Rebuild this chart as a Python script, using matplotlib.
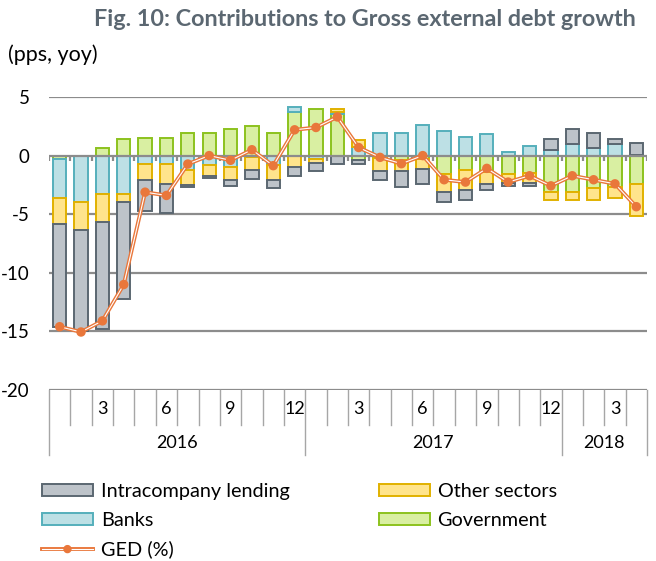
import matplotlib
matplotlib.use("Agg")
import matplotlib.pyplot as plt
import matplotlib.patheffects as pe
from matplotlib.patches import Patch
from matplotlib.lines import Line2D
import numpy as np

plt.rcParams["font.family"] = ["Lato", "DejaVu Sans"]

# ── data (pps, yoy), Jan 2016 .. Apr 2018 ────────────────────────────────
years = ["2016", "2017", "2018"]
month_nums = list(range(1, 13)) + list(range(1, 13)) + [1, 2, 3, 4]

government = [-0.25, 0.0, 0.66, 1.38, 1.52, 1.52, 1.90, 1.89, 2.23, 2.55, 1.89, 3.72,
              3.95, 3.58, -0.37, -0.20, -0.40, -0.29, -1.55, -1.26, -1.37, -1.55, -1.49, -3.07,
              -3.07, -2.78, -2.64, -2.41]
banks = [-3.35, -3.93, -3.27, -3.27, -0.69, -0.69, -1.20, -0.83, -1.00, -0.10, -0.77, 0.43,
         -0.29, 0.14, 0.77, 1.89, 1.89, 2.58, 2.06, 1.58, 1.86, 0.32, 0.86, 0.52,
         0.95, 0.66, 1.00, 0.09]
other_sectors = [-2.20, -2.43, -2.37, -0.66, -1.43, -1.72, -1.29, -0.89, -1.06, -1.10, -1.29, -1.00,
                 -0.34, 0.23, 0.57, -1.10, -0.95, -0.86, -1.52, -1.66, -1.09, -0.80, -0.86, -0.72,
                 -0.72, -1.00, -1.00, -2.75]
intracompany = [-8.80, -8.60, -9.17, -8.30, -2.58, -2.46, -0.15, -0.20, -0.52, -0.78, -0.72, -0.72,
                -0.72, -0.69, -0.37, -0.80, -1.29, -1.29, -0.86, -0.86, -0.49, -0.23, -0.23, 0.86,
                1.28, 1.23, 0.38, 0.95]
ged = [-14.60, -15.05, -14.10, -11.00, -3.12, -3.40, -0.72, 0.00, -0.40, 0.50, -0.86, 2.20,
       2.40, 3.30, 0.69, -0.15, -0.69, 0.00, -2.06, -2.26, -1.09, -2.26, -1.72, -2.58,
       -1.72, -2.06, -2.41, -4.36]

# stacking order from zero outwards
series = [
    ("Government", government, "#D9EFA2", "#8CC21E"),
    ("Banks", banks, "#BDE0E5", "#55AFBB"),
    ("Other sectors", other_sectors, "#FFE48C", "#E1B100"),
    ("Intracompany lending", intracompany, "#BDC3C9", "#5B6771"),
]
GED_COLOR = "#E9773B"
GRID = "#8C8C8C"
CAT_LINE = "#A6A6A6"
TITLE_COLOR = "#5B6771"

n = len(ged)
x = np.arange(n)

fig = plt.figure(figsize=(6.56, 5.61), dpi=100)
ax = fig.add_axes([49 / 656, 1 - 390 / 561, 598 / 656, 293 / 561])

# ── stacked bars, positive and negative parts stacked separately ────────
pos_base = np.zeros(n)
neg_base = np.zeros(n)
handles = {}
for name, vals, face, edge in series:
    v = np.asarray(vals)
    bottom = np.where(v >= 0, pos_base, neg_base)
    ax.bar(x, v, 0.62, bottom=bottom, color=face, edgecolor=edge,
           linewidth=1.4, zorder=2)
    pos_base += np.where(v >= 0, v, 0)
    neg_base += np.where(v < 0, v, 0)
    handles[name] = Patch(facecolor=face, edgecolor=edge, linewidth=1.4)

ged_fx = [pe.Stroke(linewidth=2.8, foreground=GED_COLOR), pe.Normal()]
ax.plot(x, ged, color="white", lw=0.8, marker="o", ms=4.0,
        mfc=GED_COLOR, mec=GED_COLOR, zorder=4, path_effects=ged_fx)

# ── axes styling ────────────────────────────────────────────────────────
ax.set_xlim(-0.5, n - 0.5)
ax.set_ylim(-20, 5)
for g in [5, -5, -10, -15, -20]:
    ax.axhline(g, color=GRID, lw=1.6, zorder=1)
ax.axhline(0, color=GRID, lw=1.6, zorder=3)
ax.vlines(np.arange(n + 1) - 0.5, -0.45, 0, color=GRID, lw=1.6, zorder=3)

for s in ax.spines.values():
    s.set_visible(False)
ax.set_xticks([])
ax.set_yticks([5, 0, -5, -10, -15, -20])
ax.set_yticklabels(["5", "0", "-5", "-10", "-15", "-20"])
ax.tick_params(axis="y", length=0, pad=14, labelsize=13.5)

# ── two-level category axis ─────────────────────────────────────────────
tr = ax.get_xaxis_transform()
for k in range(n + 1):
    xb = k - 0.5
    long_line = k % 12 == 0 or k == n
    ax.plot([xb, xb], [0, -0.222 if long_line else -0.119], color=CAT_LINE,
            lw=1.0, transform=tr, clip_on=False)
for i, m in enumerate(month_nums):
    if m % 3 == 0:
        ax.text(i, -0.066, str(m), transform=tr, ha="center", va="center", fontsize=13)
for j, yr in enumerate(years):
    start = j * 12
    end = min(start + 12, n)
    ax.text((start + end - 1) / 2, -0.181, yr, transform=tr, ha="center",
            va="center", fontsize=13)

# ── titles ──────────────────────────────────────────────────────────────
fig.text(0.556, 0.966, "Fig. 10: Contributions to Gross external debt growth",
         ha="center", va="center", fontsize=16.8, fontweight="bold", color=TITLE_COLOR)
fig.text(0.012, 0.903, "(pps, yoy)", ha="left", va="center", fontsize=15.5)

# ── legend (row-wise order) ─────────────────────────────────────────────
ged_handle = Line2D([], [], color="white", lw=0.8, marker="o", ms=3.2,
                    mfc=GED_COLOR, mec=GED_COLOR, path_effects=ged_fx)
fig.legend(
    [handles["Intracompany lending"], handles["Banks"], ged_handle,
     handles["Other sectors"], handles["Government"]],
    ["Intracompany lending", "Banks", "GED (%)", "Other sectors", "Government"],
    ncol=2, loc="upper left", bbox_to_anchor=(0.037, 1 - 465 / 561),
    frameon=False, fontsize=14.3, handlelength=2.55, handleheight=0.55,
    handletextpad=0.4, labelspacing=0.6, columnspacing=4.5,
)

fig.savefig("out.png", dpi=100)
